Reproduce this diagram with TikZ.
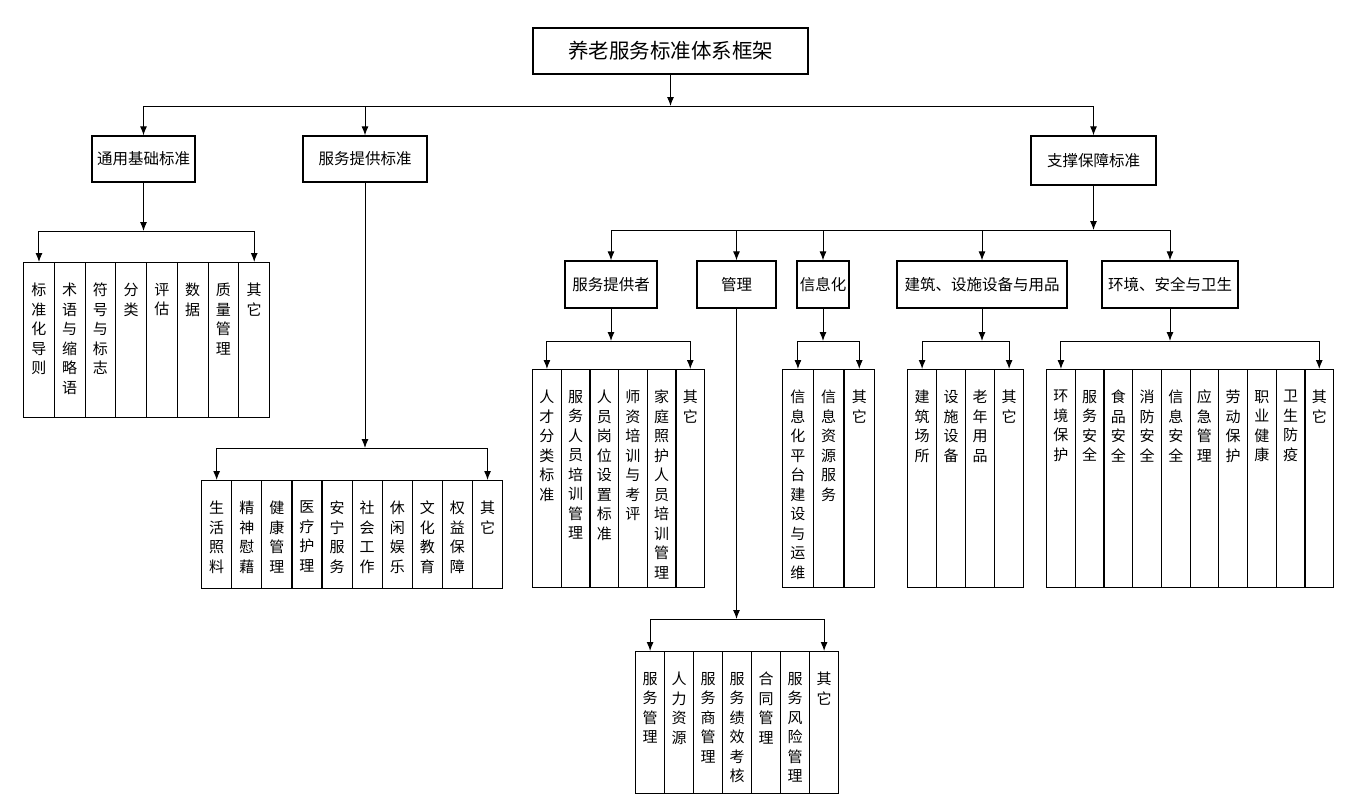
\documentclass[tikz,border=0pt]{standalone}
\usepackage{fontspec}
\setmainfont{Noto Sans CJK SC}
\usetikzlibrary{arrows.meta}
\XeTeXlinebreaklocale "zh"
\XeTeXlinebreakskip=0pt plus 1pt

\tikzset{
  box/.style={draw, line width=1.3pt, inner sep=2pt, font=\fontsize{15.5pt}{18pt}\selectfont},
  cell/.style={draw, line width=1.2pt, anchor=north west, inner sep=0pt},
  celltext/.style={anchor=north, yshift=-21pt, inner sep=0pt, text width=16pt, align=center,
    font=\fontsize{15pt}{19.5pt}\selectfont},
  link/.style={line width=1pt},
}

\newcommand{\branch}[8]{
  \coordinate (#2-y) at (0,#4);
  \foreach \txt [count=\i] in {#8} {
    \node[cell, minimum width=#6pt, minimum height=#7pt] (#2-\i) at ({#3+(\i-1)*#6},#5) {};
    \node[celltext] (#2-\i-t) at (#2-\i.north) {\txt};
    \xdef\lastcell{\i}
  }
  \draw[link,->] (#1) -- (#1 |- #2-y);
  \draw[link] (#2-1 |- #2-y) -- (#2-\lastcell |- #2-y);
  \draw[link,->] (#2-1 |- #2-y) -- (#2-1);
  \draw[link,->] (#2-\lastcell |- #2-y) -- (#2-\lastcell);
}

\begin{document}
\begin{tikzpicture}[x=1pt, y=-1pt, >={Latex[length=9pt,width=7pt]}]
\useasboundingbox (0,0) rectangle (1358,804);

\node[box, minimum width=275pt, minimum height=46pt, font=\fontsize{20.5pt}{24pt}\selectfont] (root) at (670.5,51) {养老服务标准体系框架};

\node[box, minimum width=103pt, minimum height=46pt] (t1) at (143.5,159) {通用基础标准};
\node[box, minimum width=124pt, minimum height=46pt] (t2) at (365,159) {服务提供标准};
\node[box, minimum width=125pt, minimum height=49pt] (t3) at (1093.5,160.5) {支撑保障标准};

\node[box, minimum width=92pt, minimum height=47pt] (s1) at (611,284.5) {服务提供者};
\node[box, minimum width=79pt, minimum height=47pt] (s2) at (736.5,284.5) {管理};
\node[box, minimum width=52pt, minimum height=47pt] (s3) at (823,284.5) {信息化};
\node[box, minimum width=170pt, minimum height=47pt] (s4) at (982,284.5) {建筑、设施设备与用品};
\node[box, minimum width=136pt, minimum height=47pt] (s5) at (1170,284.5) {环境、安全与卫生};

\coordinate (b0) at (0,106);
\draw[link,->] (root) -- (root |- b0);
\draw[link] (t1 |- b0) -- (t3 |- b0);
\foreach \n in {t1,t2,t3} \draw[link,->] (\n |- b0) -- (\n);

\coordinate (b1) at (0,230);
\draw[link,->] (t3) -- (t3 |- b1);
\draw[link] (s1 |- b1) -- (s5 |- b1);
\foreach \n in {s1,s2,s3,s4,s5} \draw[link,->] (\n |- b1) -- (\n);

\branch{t1}{g1}{23}{231}{262}{30.75}{155}{标准化导则,术语与缩略语,符号与标志,分类,评估,数据,质量管理,其它}
\branch{t2}{g2}{201}{448}{480}{30.1}{108}{生活照料,精神慰藉,健康管理,医疗护理,安宁服务,社会工作,休闲娱乐,文化教育,权益保障,其它}
\branch{s1}{g3}{532}{341}{369}{28.67}{218}{人才分类标准,服务人员培训管理,人员岗位设置标准,师资培训与考评,家庭照护人员培训管理,其它}
\branch{s2}{g4}{635}{619}{651}{29}{142}{服务管理,人力资源,服务商管理,服务绩效考核,合同管理,服务风险管理,其它}
\branch{s3}{g5}{782}{341}{369}{30.67}{218}{信息化平台建设与运维,信息资源服务,其它}
\branch{s4}{g6}{907}{341}{369}{29}{218}{建筑场所,设施设备,老年用品,其它}
\branch{s5}{g7}{1046}{341}{369}{28.7}{218}{环境保护,服务安全,食品安全,消防安全,信息安全,应急管理,劳动保护,职业健康,卫生防疫,其它}
\end{tikzpicture}
\end{document}
